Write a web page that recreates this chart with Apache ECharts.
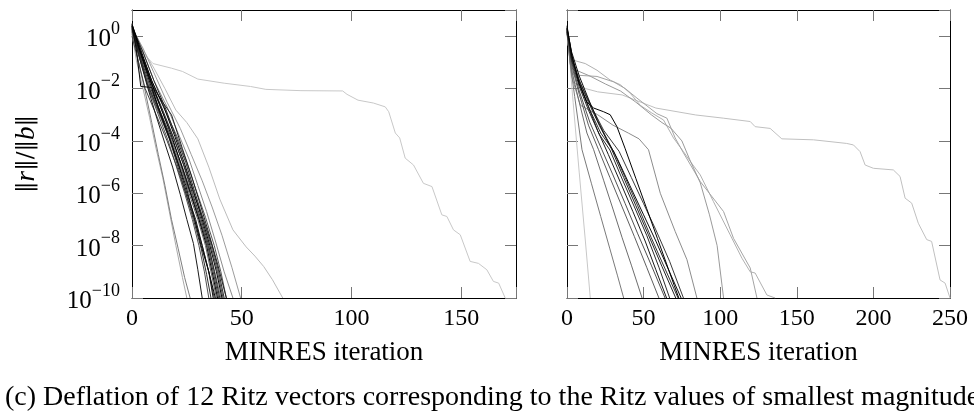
<!DOCTYPE html>
<html>
<head>
<meta charset="utf-8">
<script src="https://cdn.jsdelivr.net/npm/echarts@6/dist/echarts.min.js"></script>
<style>
html,body{margin:0;padding:0;background:#fff;}
#chart{width:974px;height:418px;}
</style>
</head>
<body>
<div id="chart"></div>
<script>
// ---------- tick values / labels ----------
const xTicksLeft = [0, 50, 100, 150];
const xTicksRight = [0, 50, 100, 150, 200, 250];
const yTickExponents = [0, -2, -4, -6, -8, -10];
const xTitle = 'MINRES iteration';
const captionText = '(c) Deflation of 12 Ritz vectors corresponding to the Ritz values of smallest magnitude';

// ---------- left panel runs: [iteration, ||r||/||b||] ----------
const L_long = [[0,3],[3,0.4],[5.8,0.19],[9.6,9e-2],[18,6e-2],[23,4.5e-2],[30,2.3e-2],[42,1.6e-2],[54,1.2e-2],[61,9.3e-3],[77,8.3e-3],[96,8.1e-3],[98,6e-3],[103,3.6e-3],[110,2.8e-3],[115.4,2e-3],[117,1.3e-3],[120,2e-4],[122,1.3e-4],[124.5,2.2e-5],[128.3,1.2e-5],[132.8,2.4e-6],[136.7,1.8e-6],[141.2,1.5e-7],[143.5,1.3e-7],[146.5,4e-8],[149.6,2.6e-8],[154.1,2.5e-9],[157.9,2.1e-9],[161.7,1.2e-9],[164.7,4.3e-10],[167.1,3.7e-10],[170.1,1e-10]];
const L_u = [[0,2.5],[5,0.3],[10,6e-2],[15,1e-2],[20,1.5e-3],[25,5e-4],[30,1.2e-4],[35,1e-5],[40,6e-7],[46,4e-8],[52,9e-9],[56,4e-9],[60,1.6e-9],[64,5e-10],[68.7,1e-10]];
const L_a = [[0,1.2],[2,0.12],[5,1e-2],[8,8e-4],[11,5e-5],[14,4e-6],[17,2e-7],[20,1e-8],[23,6e-10],[25,1e-10]];
const L_t = [[0,2],[5,0.35],[10,4e-2],[16,3e-3],[22,3e-4],[27,3e-5],[32,3e-6],[36.5,3e-7],[41,2.5e-8],[45.5,1.5e-9],[49.5,1e-10]];
const L_s = [[0,1.7],[5,0.25],[10,2e-2],[16,2e-3],[21,2e-4],[26,2e-5],[30,2e-6],[34,2e-7],[38,1.5e-8],[42,1e-9],[46,1e-10]];
const L_b = [[0,1.8],[3,0.1],[6,8e-3],[9,5e-4],[12,3e-5],[15,2e-6],[18,1e-7],[21,8e-9],[24,6e-10],[26.5,1e-10]];
const L_m = [[0,1.3],[4,0.1],[8,8e-3],[13,8e-4],[18,8e-5],[22.5,8e-6],[27,8e-7],[31,8e-8],[35,8e-9],[38,8e-10],[40.5,1e-10]];
const L_i = [[0,1.6],[4,0.12],[8,1e-2],[13,1e-3],[18,1e-4],[22.5,1e-5],[26,1e-6],[30,1e-7],[33.5,1e-8],[36,1e-9],[38.5,1e-10]];
const L_q = [[0,1.4],[5,0.15],[10,1.2e-2],[15,1.5e-3],[20.5,1.5e-4],[25,1.5e-5],[29,1.5e-6],[33.5,1.2e-7],[37.5,1e-8],[40.5,1e-9],[43,1e-10]];
const L_d = [[0,1.5],[3.5,0.15],[7.5,1e-2],[12,1e-3],[16.5,1e-4],[20,1.2e-5],[24,1e-6],[27.5,1e-7],[30.5,1e-8],[33,1e-9],[35,1e-10]];
const L_o = [[0,1.9],[4,0.2],[9,1.2e-2],[14,1.2e-3],[19.5,1e-4],[24,1e-5],[28,1e-6],[32.5,1e-7],[36,1e-8],[39,1e-9],[41.5,1e-10]];
const L_g = [[0,1],[3,0.1],[6,1e-2],[11,1e-3],[16,1e-4],[20.5,1e-5],[24.5,1e-6],[28.5,1e-7],[32,1e-8],[35,1e-9],[37.5,1e-10]];
const L_k = [[0,1.8],[4,0.15],[8.5,1e-2],[13.5,1e-3],[18.5,1e-4],[23,1e-5],[27,1e-6],[31,1e-7],[34.5,1e-8],[37,1e-9],[39.5,1e-10]];
const L_e = [[0,2.6],[3.5,0.2],[7,1.5e-2],[12,1.5e-3],[17,1.2e-4],[21,1e-5],[24.5,1e-6],[28,1e-7],[31.5,8e-9],[34,8e-10],[36,1e-10]];
const L_p = [[0,2.4],[5,0.25],[10,2e-2],[15,2e-3],[20,1.5e-4],[24.5,1.5e-5],[28.5,1.2e-6],[32.5,1e-7],[36.5,1e-8],[39.5,1e-9],[42,1e-10]];
const L_l = [[0,2.2],[4,0.2],[9,1.5e-2],[14,1.5e-3],[19,1.3e-4],[23.5,1.2e-5],[27.5,1e-6],[31.5,1e-7],[35,1e-8],[37.5,1e-9],[40,1e-10]];
const L_r = [[0,2.5],[4,0.25],[9.5,1.2e-2],[14,3e-3],[18,1e-3],[23,5e-5],[27,5e-6],[31,4e-7],[35,3e-8],[39,2e-9],[43,1e-10]];
const L_c = [[0,2.2],[3,0.2],[7,1.2e-2],[11,9e-4],[15,8e-5],[18.5,1e-5],[22,9e-7],[25,1e-7],[28,1.2e-8],[30,1.2e-9],[32,1e-10]];
const L_f = [[0,2],[4,0.2],[9,1e-2],[13,1e-3],[17.5,1e-4],[21.5,1e-5],[25,1e-6],[29,1e-7],[32,1e-8],[35,1e-9],[37,1e-10]];
const L_h = [[0,2.5],[2,0.3],[4,1.2e-2],[9,1.1e-2],[12,2e-3],[16,2.5e-4],[20,2.5e-5],[24.5,2e-6],[28,1.5e-7],[31.5,1e-8],[35,1e-9],[38,1e-10]];
const L_j = [[0,3],[3,0.4],[8,2.5e-2],[13,2e-3],[18.5,1.2e-4],[22.5,1.2e-5],[26.5,1.1e-6],[30.5,1e-7],[34,1e-8],[36.5,1e-9],[39,1e-10]];
const L_n = [[0,2.8],[4,0.3],[9,2e-2],[14.5,2e-3],[19.5,1.5e-4],[24,1.3e-5],[28,1.2e-6],[32,1e-7],[35.5,1e-8],[38.5,1e-9],[41,1e-10]];

// ---------- right panel runs ----------
const R_long = [[0,1.5],[2,0.1],[5,1.6e-2],[12,1e-2],[20,7.5e-3],[36,5.7e-3],[58,1.8e-3],[84,9.8e-4],[102,7.4e-4],[119.6,5.5e-4],[122.8,3.5e-4],[132.6,3e-4],[140.2,1.2e-4],[160.9,1.1e-4],[182.6,8e-5],[187,7e-5],[191.3,3.9e-5],[194.6,1.2e-5],[200,9e-6],[213,7.8e-6],[217.4,4.4e-6],[220.7,6.5e-7],[225,4.2e-7],[229.3,7.2e-8],[234.8,1.7e-8],[238,1.45e-8],[243.5,4.9e-10],[246.8,3.7e-10],[250,1e-10]];
const R_01 = [[0,2],[4,3e-3],[8,6e-6],[12,1.5e-8],[15.2,1e-10]];
const R_14 = [[0,2],[1.5,0.3],[4.3,0.12],[11.9,9e-2],[19.6,5e-2],[28.2,2.1e-2],[34.8,1.4e-2],[41.3,6.6e-3],[47.8,2.3e-3],[55,1.2e-3],[63,6.3e-4],[69.5,1.3e-4],[76,3.9e-5],[81,1.5e-5],[87,5e-6],[95.6,4.8e-7],[106.5,2.6e-8],[114.2,3.3e-9],[119.6,1e-9],[122.8,9e-10],[130.5,1.3e-10],[135.9,1e-10]];
const R_15 = [[0,1.5],[2,0.1],[4.3,3.3e-2],[19.6,2.9e-2],[30.4,1.8e-2],[38,1e-2],[45.7,4.3e-3],[58.7,1.1e-3],[65.2,7.4e-4],[70.6,1.3e-4],[76,3.5e-5],[87,2.8e-6],[102.2,2e-7],[108.7,1.9e-8],[119.6,1.4e-9],[124,1e-10]];
const R_16 = [[0,1.8],[3,0.15],[6,5e-2],[15,3e-2],[25,1.5e-2],[35,8e-3],[45,3e-3],[55,1e-3],[62,5e-4],[68,3e-4],[75,1e-4],[80,2e-5],[87,2.5e-6],[93,1.5e-7],[98,1e-8],[102.2,1e-10]];
const R_13 = [[0,1.5],[3,3e-2],[8.7,2.3e-3],[20,1e-3],[30,4e-4],[40,2e-4],[47,1.2e-4],[53.2,4.6e-5],[60.9,1e-6],[70.6,3.5e-8],[78.3,2.9e-9],[84.8,1e-10]];
const R_02 = [[0,1.5],[2,0.1],[5,5e-3],[9.8,4.6e-5],[16,2.3e-6],[22,1.3e-7],[28,7.5e-9],[33,7e-10],[37,1e-10]];
const R_03 = [[0,1.2],[3,5e-2],[8,3e-3],[13,2e-4],[17.4,4.6e-5],[24,3e-6],[30,2.5e-7],[36,2e-8],[42,1.8e-9],[49,1e-10]];
const R_04 = [[0,1.5],[3,8e-2],[8,6e-3],[14,4e-4],[20.6,4.6e-5],[28,4e-6],[36,3e-7],[44,2.2e-8],[52,1.5e-9],[60,1e-10]];
const R_05 = [[0,1.8],[3,0.1],[8,8e-3],[15,5e-4],[22.8,4.6e-5],[30,5e-6],[38,4e-7],[46,3e-8],[55,1.8e-9],[64,1e-10]];
const R_12 = [[0,1.4],[3,0.12],[9,1.5e-2],[16,2e-3],[24,2.5e-4],[34,4e-5],[42,4e-6],[50,4e-7],[58,4e-8],[67,2.5e-9],[76,1e-10]];
const R_10 = [[0,2.2],[4,0.1],[9,1.2e-2],[15,1.5e-3],[22,2e-4],[30.5,4e-5],[38,4e-6],[46,3.5e-7],[55,2e-8],[64,1.3e-9],[72.5,1e-10]];
const R_07 = [[0,1.6],[3,0.12],[8,1.2e-2],[14,1.5e-3],[21,1.8e-4],[28,4.5e-5],[36,3.5e-6],[44,3e-7],[52,2.5e-8],[60,1.5e-9],[67,1e-10]];
const R_09 = [[0,1.8],[3,0.18],[8,2e-2],[14,3e-3],[21,4e-4],[29,5e-5],[37,4e-6],[45,3.3e-7],[53,2.7e-8],[62,1.6e-9],[71,1e-10]];
const R_06 = [[0,2],[3,0.15],[8,1.5e-2],[14,2e-3],[20,2.5e-4],[27,3e-5],[35,2.5e-6],[43,2e-7],[51,1.5e-8],[58,1.2e-9],[65,1e-10]];
const R_11 = [[0,2],[3,0.25],[8,3e-2],[14,4e-3],[20,6e-4],[26,1.2e-4],[33,2e-5],[41,2e-6],[50,1.5e-7],[58,1.5e-8],[66,1.3e-9],[74.5,1e-10]];
const R_08 = [[0,2.5],[3,0.2],[8,1.5e-2],[13,3e-3],[17.4,1.8e-3],[23.9,1.3e-3],[28.2,1e-3],[32.6,3.5e-4],[38,5e-5],[45,3.6e-6],[52,2.6e-7],[59,1.9e-8],[65,2e-9],[70,3e-10],[73,1e-10]];

const leftRuns  = [L_long, L_u, L_a, L_t, L_s, L_b, L_m, L_i, L_q, L_d, L_o, L_g, L_k, L_e, L_p, L_l, L_r, L_c, L_f, L_h, L_j, L_n];
const rightRuns = [R_long, R_01, R_14, R_15, R_16, R_13, R_02, R_03, R_04, R_05, R_12, R_10, R_07, R_09, R_06, R_11, R_08];

// ---------- styles ----------
const leftShades  = ['#c8c8c8','#bcbcbc','#ababab','#9c9c9c','#8c8c8c','#7e7e7e','#707070','#606060','#585858','#505050','#484848','#404040','#383838','#303030','#2a2a2a','#252525','#202020','#1a1a1a','#111111','#0a0a0a','#000000','#000000'];
const rightShades = ['#c0c0c0','#c8c8c8','#b0b0b0','#a4a4a4','#9a9a9a','#8c8c8c','#7a7a7a','#6c6c6c','#5e5e5e','#505050','#3a3a3a','#333333','#2b2b2b','#222222','#1a1a1a','#0d0d0d','#000000'];

const serif = '"Liberation Serif","DejaVu Serif",serif';
const tickColor = '#777';

function yLabel(v) {
  const e = Math.round(Math.log10(v));
  return '{b|10}{s|' + (e < 0 ? '\u2212' : '') + Math.abs(e) + '}';
}
const yRich = {
  b: {fontFamily: serif, fontSize: 25, color: '#000', lineHeight: 32, verticalAlign: 'bottom'},
  s: {fontFamily: serif, fontSize: 18, color: '#000', lineHeight: 20, verticalAlign: 'top'}
};

function xAxisDef(grid, max, pos, withLabels, showName) {
  return {
    type: 'value', gridIndex: grid, position: pos, min: 0, max: max, interval: 50,
    axisLine: {show: true, onZero: false, lineStyle: {color: '#000', width: 1}},
    axisTick: {show: true, inside: true, length: 11, lineStyle: {color: tickColor, width: 1}},
    axisLabel: {show: withLabels, margin: 9, fontFamily: serif, fontSize: 24, color: '#000',
      showMaxLabel: true, formatter: function (v) { return (v % 50 === 0) ? String(v) : ''; }},
    splitLine: {show: false},
    name: showName ? xTitle : '', nameLocation: 'middle', nameGap: 41,
    nameTextStyle: {fontFamily: serif, fontSize: 27, color: '#000'}
  };
}
function yAxisDef(grid, pos, withLabels, showName) {
  return {
    type: 'log', logBase: 10, gridIndex: grid, position: pos, min: 1e-10, max: 10, interval: 2,
    axisLine: {show: true, onZero: false, lineStyle: {color: '#000', width: 1}},
    axisTick: {show: true, inside: true, length: 11, lineStyle: {color: tickColor, width: 1}},
    axisLabel: {show: withLabels, margin: 12, showMaxLabel: false, formatter: yLabel, rich: yRich},
    splitLine: {show: false}, minorTick: {show: false},
    name: showName ? '{n|\u2016}{i|r}{n|\u2016/\u2016}{i|b}{n|\u2016}' : '',
    nameLocation: 'middle', nameRotate: 90, nameGap: 92,
    nameTextStyle: {rich: {
      n: {fontFamily: '"DejaVu Serif",serif', fontSize: 23, color: '#000'},
      i: {fontFamily: serif, fontStyle: 'italic', fontSize: 27, color: '#000'}
    }}
  };
}

const series = [];
leftRuns.forEach(function (run, k) {
  series.push({type: 'line', xAxisIndex: 0, yAxisIndex: 0, data: run, showSymbol: false, silent: true,
    lineStyle: {width: 1, color: leftShades[k]}, z: 2});
});
rightRuns.forEach(function (run, k) {
  series.push({type: 'line', xAxisIndex: 2, yAxisIndex: 2, data: run, showSymbol: false, silent: true,
    lineStyle: {width: 1, color: rightShades[k]}, z: 2});
});

const chart = echarts.init(document.getElementById('chart'), null, {renderer: 'canvas'});
chart.setOption({
  animation: false,
  backgroundColor: '#fff',
  grid: [
    {left: 132, top: 10, width: 384, height: 288},
    {left: 567, top: 10, width: 383, height: 288}
  ],
  xAxis: [
    xAxisDef(0, 175, 'bottom', true, true),
    xAxisDef(0, 175, 'top', false, false),
    xAxisDef(1, 250, 'bottom', true, true),
    xAxisDef(1, 250, 'top', false, false)
  ],
  yAxis: [
    yAxisDef(0, 'left', true, true),
    yAxisDef(0, 'right', false, false),
    yAxisDef(1, 'left', false, false),
    yAxisDef(1, 'right', false, false)
  ],
  series: series,
  graphic: [{
    type: 'text', left: 5, top: 384,
    style: {text: captionText, fontFamily: serif, fontSize: 28, fill: '#000'}
  }]
});
</script>
</body>
</html>
